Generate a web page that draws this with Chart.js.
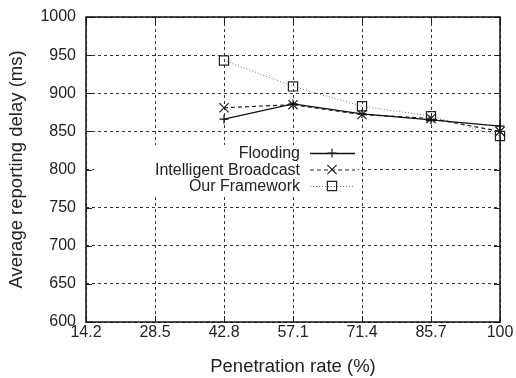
<!DOCTYPE html>
<html>
<head>
<meta charset="utf-8">
<script src="https://cdn.jsdelivr.net/npm/chart.js@4"></script>
<style>
  html, body { margin: 0; padding: 0; background: #fff; }
  #wrap { width: 516px; height: 378px; }
</style>
</head>
<body>
<div id="wrap"><canvas id="chart" width="516" height="378"></canvas></div>
<script>
const rates = ['14.2', '28.5', '42.8', '57.1', '71.4', '85.7', '100']
const flooding = [null, null, 866, 886, 873, 865, 857]
const intelligent = [null, null, 881, 885, 872, 867, 850]
const framework = [null, null, 943, 909, 883, 870, 844]
const yTicks = [600, 650, 700, 750, 800, 850, 900, 950, 1000]

const FONT = "'Liberation Sans', Arial, sans-serif"

// legend + frame + inward ticks, gnuplot style
const framePlugin = {
    id: 'frame',
    afterDraw(chart) {
        const ctx = chart.ctx
        const a = chart.chartArea
        const xs = chart.scales.x
        const ys = chart.scales.y
        ctx.save()
        // legend box
        ctx.fillStyle = '#fff'
        ctx.fillRect(94, 145, 264, 51)
        // inward ticks
        ctx.strokeStyle = '#222'
        ctx.lineWidth = 1
        ctx.setLineDash([])
        ctx.beginPath()
        ys.ticks.forEach((t, i) => {
            const y = Math.round(ys.getPixelForTick(i)) + 0.5
            ctx.moveTo(a.left, y); ctx.lineTo(a.left + 6, y)
            ctx.moveTo(a.right, y); ctx.lineTo(a.right - 6, y)
        })
        xs.ticks.forEach((t, i) => {
            const x = Math.round(xs.getPixelForTick(i)) + 0.5
            ctx.moveTo(x, a.bottom); ctx.lineTo(x, a.bottom - 6)
            ctx.moveTo(x, a.top); ctx.lineTo(x, a.top + 6)
        })
        ctx.stroke()
        // frame
        ctx.lineWidth = 1.5
        ctx.strokeStyle = '#111'
        ctx.strokeRect(a.left, a.top, a.right - a.left, a.bottom - a.top)

        // legend entries
        ctx.font = '16px ' + FONT
        ctx.textAlign = 'right'
        ctx.textBaseline = 'middle'
        chart.data.datasets.forEach((ds, i) => {
            const y = 153 + i * 16.5
            ctx.fillStyle = '#222'
            ctx.fillText(ds.label, 300, y + 1)
            ctx.strokeStyle = ds.borderColor
            ctx.lineWidth = ds.borderWidth
            ctx.setLineDash(ds.borderDash || [])
            ctx.beginPath()
            ctx.moveTo(310, y + 0.5)
            ctx.lineTo(355, y + 0.5)
            ctx.stroke()
            ctx.setLineDash([])
            ctx.fillStyle = 'rgba(0,0,0,0)'
            ctx.strokeStyle = '#222'
            ctx.lineWidth = 1.2
            Chart.helpers.drawPoint(ctx, {
                pointStyle: ds.pointStyle,
                radius: ds.pointRadius,
                borderWidth: 1.2
            }, 332, y)
        })
        ctx.restore()
    }
}

const ctx = document.getElementById('chart').getContext('2d')
const myChart = new Chart(ctx, {
    type: 'line',
    data: {
        labels: rates,
        datasets: [{
            label: 'Flooding',
            data: flooding,
            borderColor: '#111',
            backgroundColor: 'transparent',
            borderWidth: 1.3,
            pointStyle: 'cross',
            pointRadius: 4.5,
            pointBorderWidth: 1.2,
            clip: false
        }, {
            label: 'Intelligent Broadcast',
            data: intelligent,
            borderColor: '#222',
            backgroundColor: 'transparent',
            borderWidth: 1.2,
            borderDash: [4, 3],
            pointStyle: 'crossRot',
            pointRadius: 6.5,
            pointBorderWidth: 1.2,
            clip: false
        }, {
            label: 'Our Framework',
            data: framework,
            borderColor: '#777',
            backgroundColor: 'transparent',
            pointBorderColor: '#222',
            borderWidth: 1,
            borderDash: [1, 2],
            pointStyle: 'rect',
            pointRadius: 6.5,
            pointBorderWidth: 1.2,
            clip: false
        }]
    },
    options: {
        responsive: false,
        animation: false,
        layout: { padding: { top: 17, right: 16, left: 0, bottom: 0 } },
        plugins: {
            legend: { display: false },
            tooltip: { enabled: false }
        },
        elements: { line: { tension: 0 } },
        scales: {
            x: {
                offset: false,
                grid: {
                    color: '#333',
                    lineWidth: 1,
                    drawTicks: false
                },
                border: { display: false, dash: [3, 3] },
                ticks: {
                    color: '#222',
                    font: { family: FONT, size: 16 },
                    padding: 1,
                    maxRotation: 0,
                    autoSkip: false
                },
                title: {
                    display: true,
                    text: 'Penetration rate (%)',
                    color: '#222',
                    font: { family: FONT, size: 18.5 },
                    padding: { top: 6, bottom: 0 }
                },
                afterFit(scale) { scale.height = 56 }
            },
            y: {
                min: 600,
                max: 1000,
                afterBuildTicks(scale) { scale.ticks = yTicks.map(v => ({ value: v })) },
                grid: {
                    color: '#333',
                    lineWidth: 1,
                    drawTicks: false
                },
                border: { display: false, dash: [3, 3] },
                ticks: {
                    color: '#222',
                    font: { family: FONT, size: 16 },
                    padding: 10,
                    callback: v => String(v)
                },
                title: {
                    display: true,
                    text: 'Average reporting delay (ms)',
                    color: '#222',
                    font: { family: FONT, size: 18.5 },
                    padding: { top: 6, bottom: 4 }
                },
                afterFit(scale) {
                    scale.width = 86
                    scale.paddingTop = 0
                    scale.paddingBottom = 0
                }
            }
        }
    },
    plugins: [framePlugin]
})
</script>
</body>
</html>
